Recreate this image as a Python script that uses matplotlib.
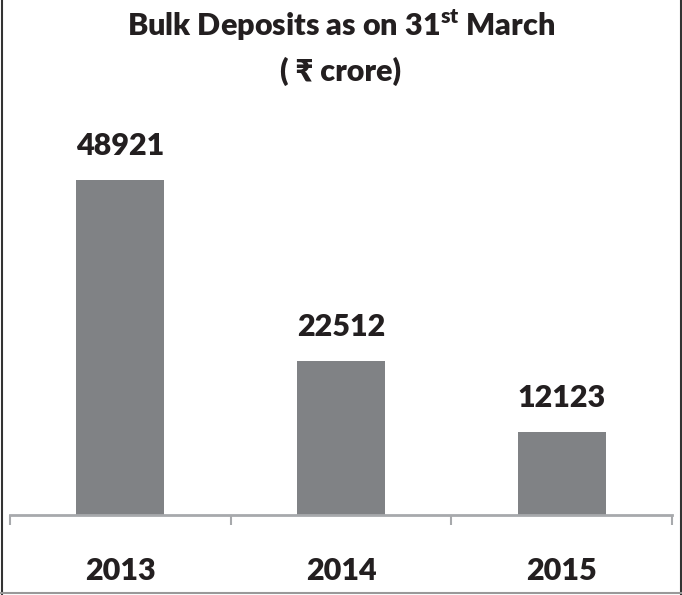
import matplotlib
matplotlib.use("Agg")
import matplotlib.pyplot as plt
from matplotlib.lines import Line2D

years = ["2013", "2014", "2015"]
deposits = [48921, 22512, 12123]

TEXT = "#231f20"
BAR = "#808285"
AXIS = "#a7a9ac"
WEIGHT = "heavy"

plt.rcParams["font.family"] = ["Lato", "DejaVu Sans"]
plt.rcParams["font.weight"] = WEIGHT
plt.rcParams["mathtext.fontset"] = "custom"
plt.rcParams["mathtext.rm"] = "Lato:heavy"
plt.rcParams["mathtext.bf"] = "Lato:heavy"


def main():
    fig = plt.figure(figsize=(6.82, 5.95), dpi=100)
    ax = fig.add_axes([10 / 682, 80 / 595, 662 / 682, 411 / 595])

    x = range(len(years))
    ax.bar(x, deposits, width=0.4, color=BAR)

    for xi, v in zip(x, deposits):
        ax.annotate(str(v), (xi, v), xytext=(0, 18), textcoords="offset points",
                    ha="center", va="baseline", fontsize=22, fontweight=WEIGHT,
                    color=TEXT)

    ax.set_xlim(-0.5, 2.5)
    ax.set_ylim(0, 60000)
    ax.set_yticks([])
    for s in ("left", "right", "top"):
        ax.spines[s].set_visible(False)
    ax.spines["bottom"].set_color(AXIS)
    ax.spines["bottom"].set_linewidth(2)

    ax.set_xticks(list(x))
    ax.set_xticklabels(years, fontsize=22, fontweight=WEIGHT, color=TEXT)
    ax.tick_params(axis="x", which="major", length=0, pad=30)
    ax.set_xticks([-0.5, 0.5, 1.5, 2.5], minor=True)
    ax.tick_params(axis="x", which="minor", length=7.5, width=1.5, color=AXIS)

    fig.text(0.5, 1 - 25 / 595, r"Bulk Deposits as on $\mathbf{31}^{\mathbf{st}}$ March",
             ha="center", va="center", fontsize=22, fontweight=WEIGHT, color=TEXT)
    fig.text(0.5, 1 - 71 / 595, "( \u20b9 crore)", ha="center", va="center",
             fontsize=22, fontweight=WEIGHT, color=TEXT)

    # frame on left, right and bottom
    fig.add_artist(Line2D([1.5 / 682, 1.5 / 682], [0, 1], transform=fig.transFigure,
                          color="#333333", linewidth=1.5))
    fig.add_artist(Line2D([680.5 / 682, 680.5 / 682], [0, 1], transform=fig.transFigure,
                          color="#333333", linewidth=1.5))
    fig.add_artist(Line2D([0, 1], [2 / 595, 2 / 595], transform=fig.transFigure,
                          color="#999999", linewidth=1.5))

    fig.savefig("out.png", dpi=100)


if __name__ == "__main__":
    main()
